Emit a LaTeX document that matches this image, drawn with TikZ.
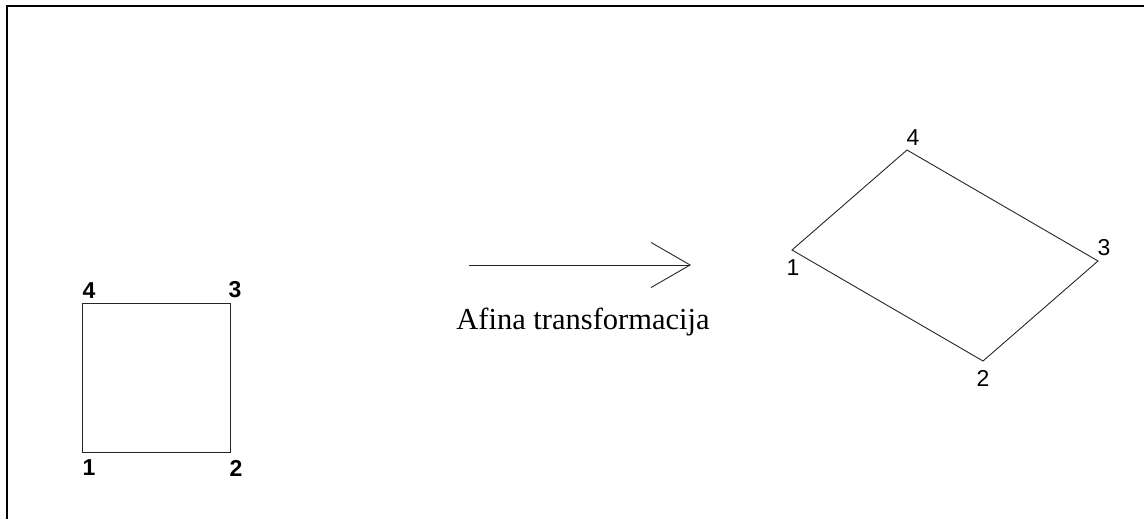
\documentclass[tikz,border=0pt]{standalone}
\usepackage{fontspec}
\setmainfont{Liberation Serif}
\newfontfamily\arialf{Liberation Sans}
\usetikzlibrary{arrows.meta}
\begin{document}
\begin{tikzpicture}[x=1pt,y=-1pt,
  edge/.style={draw=black!85, line width=0.9pt},
  frameline/.style={draw=black, line width=2pt},
  lblb/.style={font=\arialf\bfseries\fontsize{23}{25}\selectfont, inner sep=0pt},
  lbl/.style={font=\arialf\fontsize{23}{25}\selectfont, inner sep=0pt},
  caption/.style={font=\fontsize{30.5}{34}\selectfont, inner sep=0pt, anchor=base}]
\useasboundingbox (0,0) rectangle (1144,519);
% frame (top and left edges only)
\coordinate (fa) at (7,519);
\coordinate (fb) at (7,6);
\coordinate (fc) at (1144,6);
\draw[frameline] (fa) -- (fb) -- (fc);
% square
\coordinate (s1) at (82,452);
\coordinate (s2) at (230,452);
\coordinate (s3) at (230,303);
\coordinate (s4) at (82,303);
\draw[edge] (s1) -- (s2) -- (s3) -- (s4) -- cycle;
\node[lblb] (l1) at (89,468) {1};
\node[lblb] (l2) at (236,468) {2};
\node[lblb] (l3) at (235,290) {3};
\node[lblb] (l4) at (89,291) {4};
% arrow
\coordinate (a1) at (469,265);
\coordinate (a2) at (691,265);
\draw[edge, -{Straight Barb[length=39pt,width=45pt,line width=0.9pt]}] (a1) -- (a2);
\node[caption] (cap) at (583,329) {Afina transformacija};
% parallelogram
\coordinate (p1) at (792,250);
\coordinate (p2) at (983,361);
\coordinate (p3) at (1098,261);
\coordinate (p4) at (907,150);
\draw[edge] (p1) -- (p2) -- (p3) -- (p4) -- cycle;
\node[lbl] (q1) at (793,268) {1};
\node[lbl] (q2) at (983,378) {2};
\node[lbl] (q3) at (1104,248) {3};
\node[lbl] (q4) at (913,138) {4};
\end{tikzpicture}
\end{document}
